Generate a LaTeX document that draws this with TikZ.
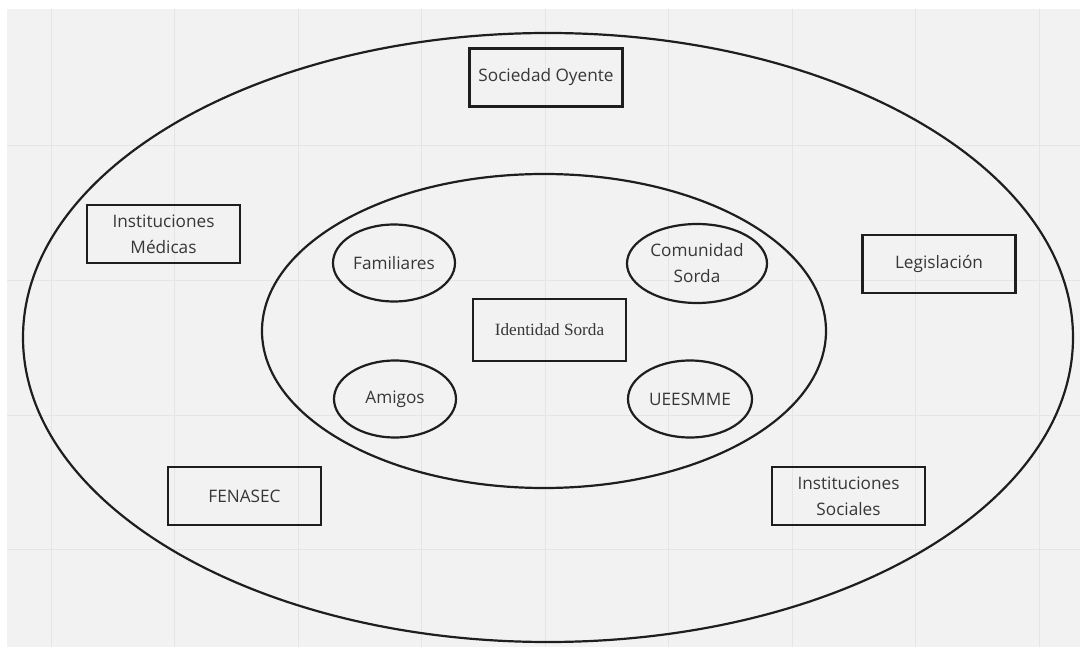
\documentclass[tikz,border=0pt]{standalone}
\usepackage{fontspec}
\setmainfont{Open Sans}
\newfontfamily\serifface{Liberation Serif}
\usetikzlibrary{shapes.geometric}
\definecolor{paper}{RGB}{242,242,242}
\definecolor{gridline}{RGB}{229,229,229}
\definecolor{ink}{RGB}{30,30,30}
\definecolor{word}{RGB}{55,55,55}

\tikzset{
    actor/.style={draw=ink, line width=2.2pt, minimum width=153pt, minimum height=58pt,
        text=word, align=center, font=\fontsize{17.2}{26}\selectfont},
    member/.style={ellipse, draw=ink, line width=2.2pt, minimum width=122pt, minimum height=77pt,
        inner sep=0pt, text=word, align=center, font=\fontsize{17.2}{26}\selectfont},
    ring/.style={draw=ink, line width=2.2pt}
}

\begin{document}
\begin{tikzpicture}[x=1pt, y=-1pt]
    \useasboundingbox (0,0) rectangle (1080,647);
    % background and grid
    \fill[white] (0,0) rectangle (1080,647);
    \fill[paper] (7,9) rectangle (1080,647);
\foreach \gx in {51,174.5,298,421.5,545,668.5,792,915.5,1039}
    \draw[gridline, line width=1pt] (\gx,9) -- (\gx,647);
\foreach \gy in {146,280.5,415,549.5}
    \draw[gridline, line width=1pt] (7,\gy) -- (1080,\gy);

    % rings
    \draw[ring] (548,337.5) ellipse (525 and 304.5);
    \draw[ring] (544,331) ellipse (282 and 157);

% outer actors
\node[actor] (oyente) at (546,77.5) {Sociedad Oyente};
\node[actor] (medicas) at (163.5,234) {Instituciones\\Médicas};
\node[actor] (ley) at (939,264) {Legislación};
\node[actor] (fenasec) at (244.5,496) {FENASEC};
\node[actor] (sociales) at (848.5,496) {Instituciones\\Sociales};

% inner circle
\node[actor, minimum height=62pt, font=\serifface\fontsize{17.2}{20}\selectfont] (identidad) at (549.5,330) {Identidad Sorda};
\node[member] (familia) at (394,263) {Familiares};
\node[member, minimum width=140pt, minimum height=79pt] (comunidad) at (697,263.5) {Comunidad\\Sorda};
\node[member] (amigos) at (395,399) {Amigos};
\node[member, minimum width=124pt] (ueesmme) at (690,399) {UEESMME};

\end{tikzpicture}
\end{document}
